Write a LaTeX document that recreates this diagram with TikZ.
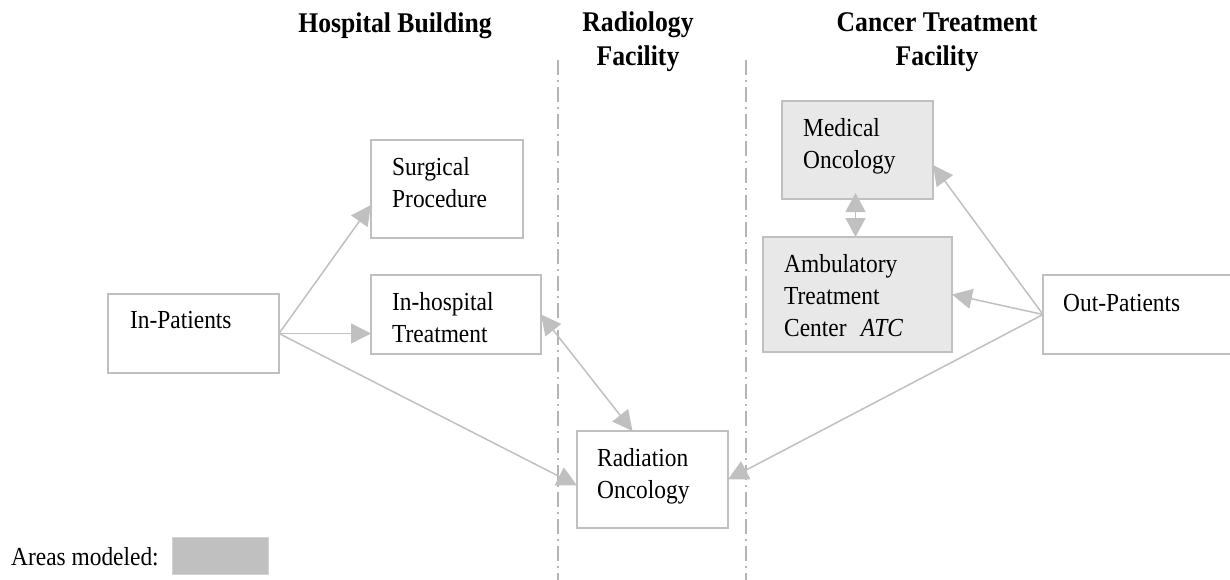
\documentclass[tikz,border=0pt]{standalone}
\usepackage{fontspec}
\setmainfont{Liberation Serif}[FakeStretch=0.9]
\usetikzlibrary{arrows.meta,calc}
\definecolor{edge}{HTML}{C0C0C0}
\definecolor{modfill}{HTML}{E8E8E8}
\definecolor{sepline}{HTML}{B4B4B4}
\begin{document}
\begin{tikzpicture}[x=1pt,y=-1pt,
  box/.style={draw=edge, line width=1.4pt, rectangle, inner sep=0pt, outer sep=0pt, anchor=north west, fill=white},
  modeled/.style={box, fill=modfill},
  lbl/.style={anchor=north west, inner sep=0pt, align=left, font=\fontsize{26}{32}\selectfont},
  title/.style={anchor=north, inner sep=0pt, align=center, font=\fontsize{28.5}{34}\selectfont\bfseries},
  tip/.tip={Triangle[length=20pt,width=20pt]},
  shorttip/.tip={Triangle[length=19pt,width=20pt]},
  conn/.style={draw=edge, line width=1.5pt, -tip},
  bconn/.style={draw=edge, line width=1.5pt, tip-tip},
  sconn/.style={draw=edge, line width=1.5pt, shorttip-shorttip},
  divider/.style={draw=sepline, line width=1.1pt, dash pattern=on 15pt off 5pt on 2pt off 5pt}]
\useasboundingbox (0,0) rectangle (1230,580);

% dividers
\coordinate (d1t) at (558,60);
\coordinate (d1b) at (558,580);
\coordinate (d2t) at (746,60);
\coordinate (d2b) at (746,580);
\draw[divider] (d1t) -- (d1b);
\draw[divider] (d2t) -- (d2b);

% titles
\node[title] (t1) at (395,13) {Hospital Building};
\node[title] (t2) at (638,12) {Radiology\\Facility};
\node[title] (t3) at (937,12) {Cancer Treatment\\Facility};

% boxes
\node[box, minimum width=171pt, minimum height=79pt] (inp) at (108,294) {};
\node[box, minimum width=152pt, minimum height=98pt] (surg) at (371,140) {};
\node[box, minimum width=170pt, minimum height=79pt] (inh) at (371,275) {};
\node[box, minimum width=151pt, minimum height=97pt] (rad) at (577,431) {};
\node[modeled, minimum width=151pt, minimum height=98pt] (med) at (782,101) {};
\node[modeled, minimum width=189pt, minimum height=115pt] (atc) at (763,237) {};
\node[box, minimum width=192pt, minimum height=79pt] (outp) at (1043,275) {};

% texts
\node[lbl] (inp-t) at ($(inp.north west)+(22,17)$) {In-Patients};
\node[lbl] (surg-t) at ($(surg.north west)+(21,17)$) {Surgical\\Procedure};
\node[lbl] (inh-t) at ($(inh.north west)+(21,17)$) {In-hospital\\Treatment};
\node[lbl] (rad-t) at ($(rad.north west)+(20,17)$) {Radiation\\Oncology};
\node[lbl] (med-t) at ($(med.north west)+(21,17)$) {Medical\\Oncology};
\node[lbl] (atc-t) at ($(atc.north west)+(21,17)$) {Ambulatory\\Treatment\\Center\hspace{0.55em}\textit{ATC}};
\node[lbl] (outp-t) at ($(outp.north west)+(20,19)$) {Out-Patients};

% connectors
\draw[conn] (inp.east) -- ($(surg.west)+(0,16)$);
\draw[conn] (inp.east) -- (inp.east -| inh.west);
\draw[conn] (inp.east) -- ($(rad.west)+(0,6)$);
\draw[bconn] (inh.east) -- ($(rad.north)+(-20,0)$);
\draw[conn] (outp.west) -- ($(med.east)+(0,15)$);
\draw[conn] (outp.west) -- (atc.east);
\draw[conn] (outp.west) -- (rad.east);
\draw[sconn] ($(med.south)+(-2,-6)$) -- ($(atc.north)+(-2,0)$);

% legend
\node[anchor=base west, inner sep=0pt, font=\fontsize{26}{32}\selectfont] (leg-t) at (11,565) {Areas modeled:};
\node[box, fill=edge, draw=edge!70, line width=0.8pt, minimum width=96pt, minimum height=37pt] (leg) at (172,537) {};
\end{tikzpicture}
\end{document}
